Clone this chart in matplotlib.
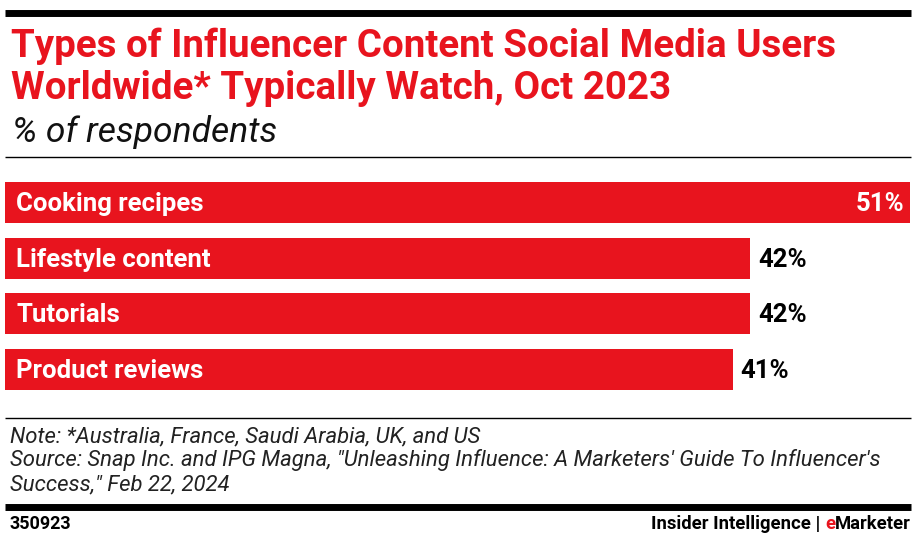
import matplotlib.pyplot as plt
from matplotlib.lines import Line2D

categories = ["Cooking recipes", "Lifestyle content", "Tutorials", "Product reviews"]
values = [51, 42, 42, 41]
value_labels = ["51%", "42%", "42%", "41%"]

RED = "#e8141e"
W, H = 916, 539
plt.rcParams['font.family'] = ["Roboto", "DejaVu Sans"]

fig = plt.figure(figsize=(W / 100, H / 100), dpi=100)

def fx(px):
    return px / W

def fy(py):
    return 1 - py / H

def hline(y, lw, x0=5, x1=911):
    fig.add_artist(Line2D([fx(x0), fx(x1)], [fy(y), fy(y)], color="black", lw=lw,
                          transform=fig.transFigure, solid_capstyle="butt"))

# rules
hline(13, 5.0)
hline(157, 1.0)
hline(418, 1.0)
hline(507, 5.0)

# title
fig.text(fx(11), fy(57), "Types of Influencer Content Social Media Users",
         color=RED, fontsize=27.7, fontweight="bold", va="baseline", ha="left")
fig.text(fx(11), fy(99), "Worldwide* Typically Watch, Oct 2023",
         color=RED, fontsize=27.7, fontweight="bold", va="baseline", ha="left")
fig.text(fx(12), fy(142), "% of respondents", fontsize=25.5, style="italic",
         va="baseline", ha="left", color="#111111")

# bars
ax = fig.add_axes([fx(5), fy(390), fx(910) - fx(5), fy(182) - fy(390)])
ypos = list(range(len(categories)))
ax.barh(ypos, values, height=0.74, color=RED, edgecolor="none")
ax.set_xlim(0, max(values))
ax.set_ylim(3.37, -0.37)
ax.axis("off")

for i, (c, v, lab) in enumerate(zip(categories, values, value_labels)):
    ax.text(0.62, i + 0.15, c, color="white", fontsize=18.5, fontweight="bold",
            va="baseline", ha="left")
    if i == 0:
        ax.text(v - 0.3, i + 0.15, lab, color="white", fontsize=18.5, fontweight="bold",
                va="baseline", ha="right")
    else:
        ax.text(v + 0.45, i + 0.15, lab, color="black", fontsize=18.5, fontweight="bold",
                va="baseline", ha="left")

# notes
notes = ["Note: *Australia, France, Saudi Arabia, UK, and US",
         "Source: Snap Inc. and IPG Magna, \"Unleashing Influence: A Marketers' Guide To Influencer's",
         "Success,\" Feb 22, 2024"]
for n, yb in zip(notes, [442, 466, 490]):
    fig.text(fx(10), fy(yb), n, fontsize=15.9, style="italic", va="baseline", ha="left",
             color="#222222")

fig.text(fx(10), fy(529), "350923", fontsize=13, fontweight="bold", va="baseline", ha="left")
t = fig.text(fx(911), fy(529), "Marketer", fontsize=13.3, fontweight="bold",
             va="baseline", ha="right")
fig.canvas.draw()
bb = t.get_window_extent()
e = fig.text(bb.x0 / W, fy(529), "e", fontsize=13.3, fontweight="bold", va="baseline",
             ha="right", color=RED)
fig.canvas.draw()
bb2 = e.get_window_extent()
fig.text(bb2.x0 / W, fy(529), "Insider Intelligence | ", fontsize=13.3, fontweight="bold",
         va="baseline", ha="right")

fig.savefig("out.png", dpi=100)
